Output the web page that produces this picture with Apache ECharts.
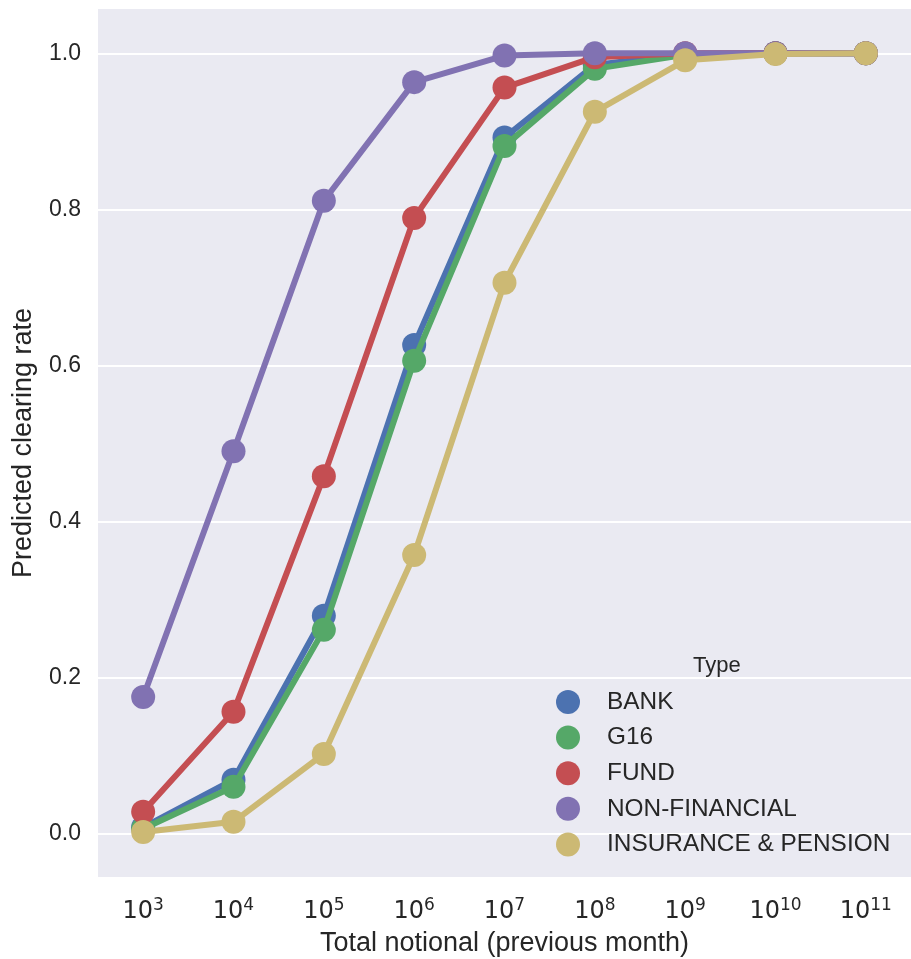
<!DOCTYPE html>
<html>
<head>
  <meta charset="UTF-8">
  <title>Predicted clearing rate</title>
  <script src="https://cdn.jsdelivr.net/npm/echarts@6/dist/echarts.min.js"></script>
  <style>
    html, body { margin: 0; padding: 0; background: #fff; }
    #chart { width: 911px; height: 959px; }
  </style>
</head>
<body>
  <div id="chart"></div>
  <script>
    // exponents of the x categories (10^3 .. 10^11)
    var exponents = [3, 4, 5, 6, 7, 8, 9, 10, 11];

    var bank         = [0.008, 0.069, 0.279, 0.626, 0.892, 0.985, 0.999, 1.0, 1.0];
    var g16          = [0.006, 0.060, 0.261, 0.606, 0.881, 0.980, 0.998, 1.0, 1.0];
    var fund         = [0.028, 0.156, 0.458, 0.789, 0.956, 0.995, 1.0, 1.0, 1.0];
    var nonFinancial = [0.175, 0.490, 0.811, 0.963, 0.997, 1.0, 1.0, 1.0, 1.0];
    var insurance    = [0.002, 0.015, 0.102, 0.357, 0.706, 0.925, 0.991, 0.999, 1.0];

    var seriesNames = ['BANK', 'G16', 'FUND', 'NON-FINANCIAL', 'INSURANCE & PENSION'];
    var seriesData = [bank, g16, fund, nonFinancial, insurance];
    var colors = ['#4C72B0', '#55A868', '#C44E52', '#8172B2', '#CCB974'];

    var chart = echarts.init(document.getElementById('chart'));

    chart.setOption({
      animation: false,
      color: colors,
      grid: {
        left: 98, right: 0, top: 8, bottom: 81,
        outerBoundsMode: 'none', containLabel: false,
        show: true, backgroundColor: '#EAEAF2', borderWidth: 0
      },
      graphic: [{
        type: 'text', left: 693, top: 655, z: 100,
        style: { text: 'Type', fontFamily: 'Liberation Sans', fontSize: 22, fill: '#262626' }
      }],
      legend: {
        orient: 'vertical',
        left: 551, top: 685,
        icon: 'circle',
        itemWidth: 24, itemHeight: 24,
        itemGap: 11.6,
        data: seriesNames,
        textStyle: { fontFamily: 'Liberation Sans', fontSize: 24.4, color: '#262626', padding: [0, 0, 0, 22] }
      },
      xAxis: {
        type: 'category',
        data: exponents,
        boundaryGap: true,
        name: 'Total notional (previous month)',
        nameLocation: 'middle',
        nameGap: 52,
        nameTextStyle: { fontFamily: 'Liberation Sans', fontSize: 27, color: '#262626' },
        axisLine: { show: false },
        axisTick: { show: false },
        splitLine: { show: false },
        axisLabel: {
          margin: 19,
          color: '#262626',
          formatter: function (v) { return '{b|10}{s|' + v + '}'; },
          rich: {
            b: { fontFamily: 'DejaVu Sans', fontSize: 24, color: '#262626' },
            s: { fontFamily: 'DejaVu Sans', fontSize: 17, color: '#262626', padding: [0, 0, 12, 0] }
          }
        }
      },
      yAxis: {
        type: 'value',
        min: -0.057, max: 1.058,
        splitNumber: 5,
        name: 'Predicted clearing rate',
        nameLocation: 'middle',
        nameGap: 61,
        nameTextStyle: { fontFamily: 'Liberation Sans', fontSize: 27, color: '#262626' },
        axisLine: { show: false },
        axisTick: { show: false },
        axisLabel: {
          margin: 17,
          showMinLabel: false, showMaxLabel: false,
          fontFamily: 'Liberation Sans', fontSize: 23, color: '#262626',
          formatter: function (v) { return v.toFixed(1); }
        },
        splitLine: { lineStyle: { color: '#ffffff', width: 2 } }
      },
      series: seriesNames.map(function (name, i) {
        return {
          name: name,
          type: 'line',
          data: seriesData[i],
          symbol: 'circle',
          symbolSize: 24,
          lineStyle: { width: 6, color: colors[i] },
          itemStyle: { color: colors[i] },
          z: 2 + i
        };
      })
    });
  </script>
</body>
</html>
